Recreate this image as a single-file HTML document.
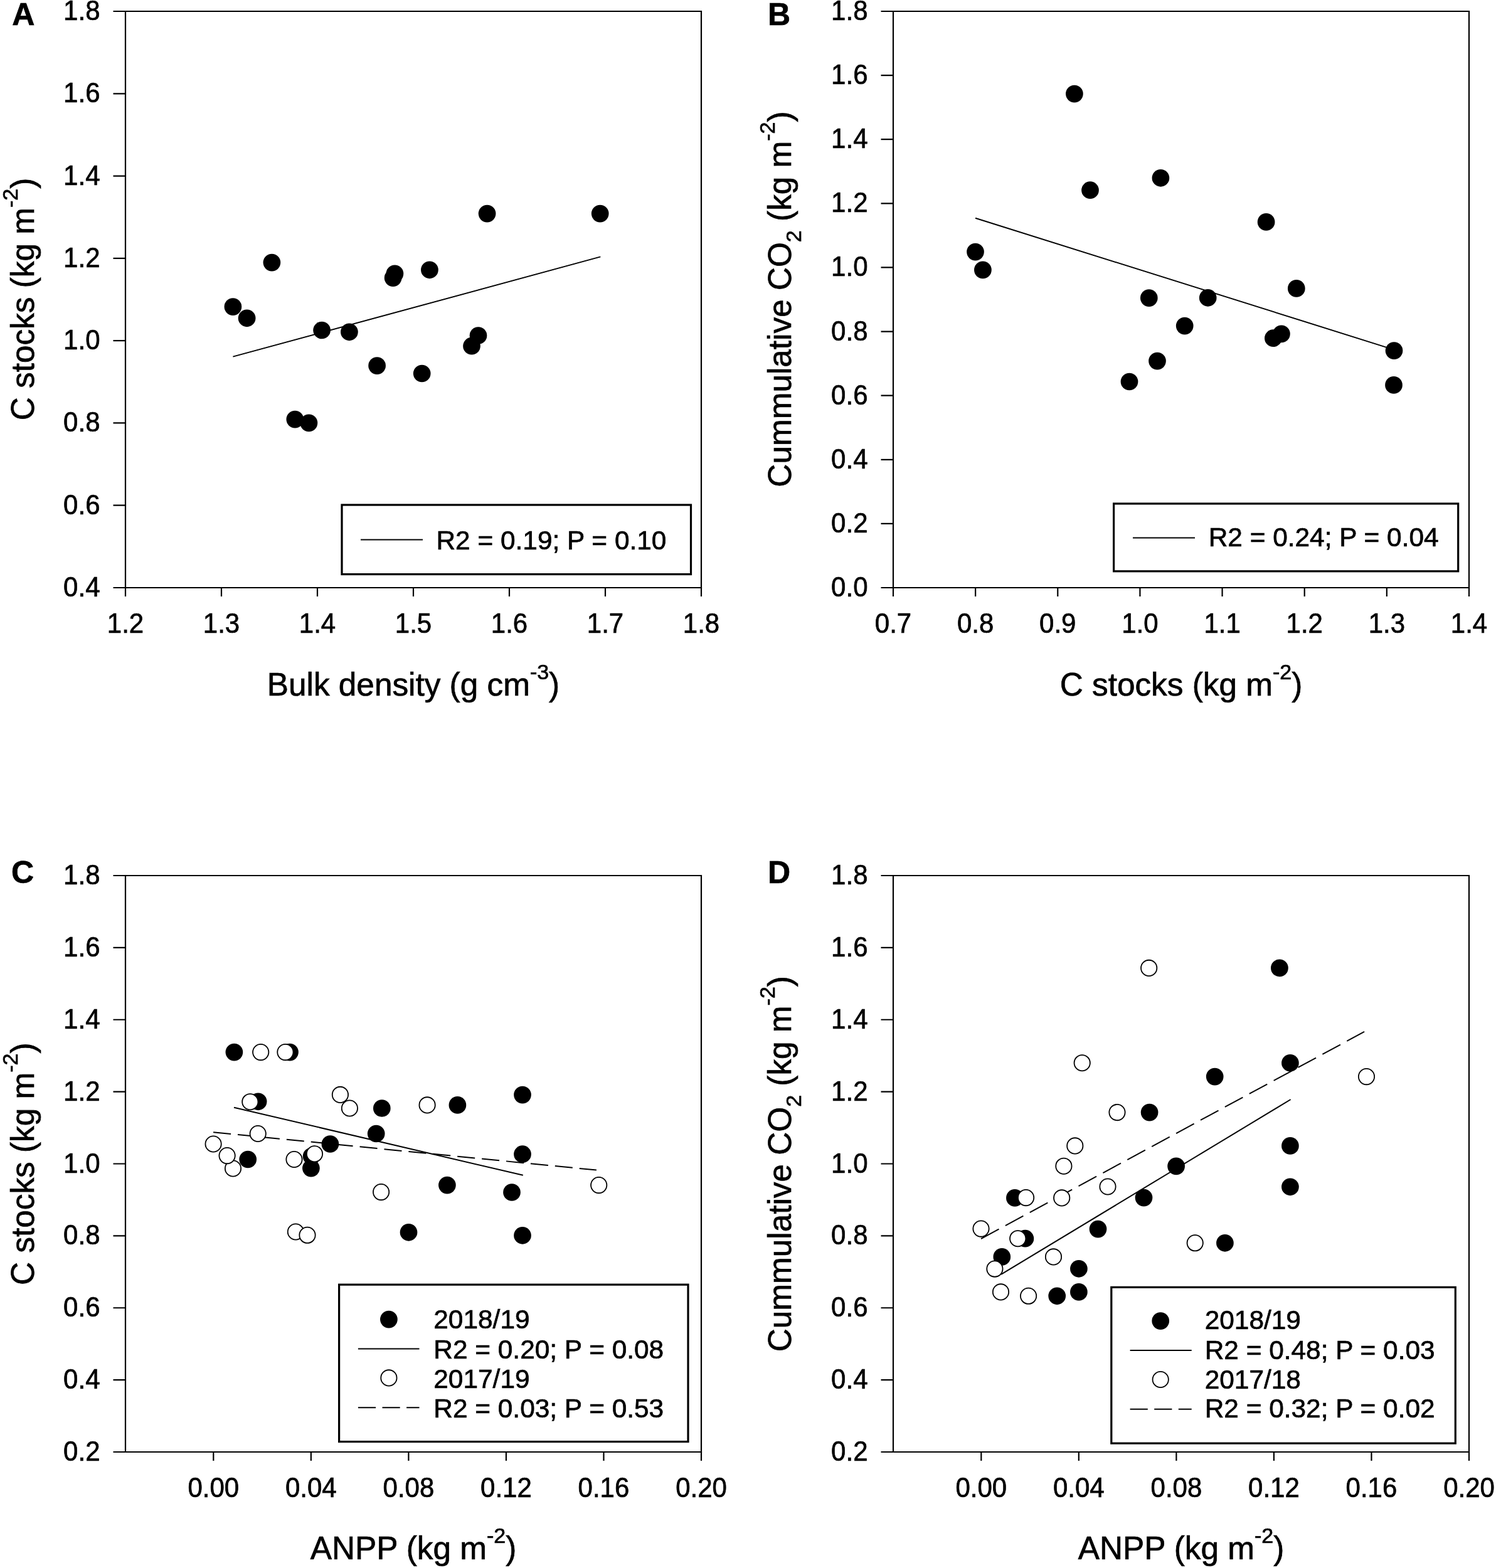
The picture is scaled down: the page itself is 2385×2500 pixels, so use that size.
<!DOCTYPE html>
<html><head><meta charset="utf-8"><title>Figure</title>
<style>html,body{margin:0;padding:0;background:#fff;}body{width:2385px;height:2500px;overflow:hidden;}svg{display:block;} text{stroke:#000;stroke-width:0.7;paint-order:stroke;}</style>
</head><body>
<svg width="2385" height="2500" viewBox="0 0 2385 2500">
<rect width="2385" height="2500" fill="#fff"/>
<g stroke="#000" stroke-width="2.2" fill="none" stroke-linecap="butt">
<path d="M200 16.9V938.1M198.9 937H1119.1M1118 938.1V16.9M1119.1 18H198.9"/>
<path d="M180.5 937H200M180.5 805.71H200M180.5 674.43H200M180.5 543.14H200M180.5 411.86H200M180.5 280.57H200M180.5 149.29H200M180.5 18H200M200 937V951M353 937V951M506 937V951M659 937V951M812 937V951M965 937V951M1118 937V951"/>
</g>
<g font-family="'Liberation Sans', Arial, Helvetica, sans-serif" font-size="42" fill="#000">
<text transform="translate(159.5 951) scale(1 1.045)" text-anchor="end">0.4</text>
<text transform="translate(159.5 819.71) scale(1 1.045)" text-anchor="end">0.6</text>
<text transform="translate(159.5 688.43) scale(1 1.045)" text-anchor="end">0.8</text>
<text transform="translate(159.5 557.14) scale(1 1.045)" text-anchor="end">1.0</text>
<text transform="translate(159.5 425.86) scale(1 1.045)" text-anchor="end">1.2</text>
<text transform="translate(159.5 294.57) scale(1 1.045)" text-anchor="end">1.4</text>
<text transform="translate(159.5 163.29) scale(1 1.045)" text-anchor="end">1.6</text>
<text transform="translate(159.5 32) scale(1 1.045)" text-anchor="end">1.8</text>
<text transform="translate(200 1009.3) scale(1 1.045)" text-anchor="middle">1.2</text>
<text transform="translate(353 1009.3) scale(1 1.045)" text-anchor="middle">1.3</text>
<text transform="translate(506 1009.3) scale(1 1.045)" text-anchor="middle">1.4</text>
<text transform="translate(659 1009.3) scale(1 1.045)" text-anchor="middle">1.5</text>
<text transform="translate(812 1009.3) scale(1 1.045)" text-anchor="middle">1.6</text>
<text transform="translate(965 1009.3) scale(1 1.045)" text-anchor="middle">1.7</text>
<text transform="translate(1118 1009.3) scale(1 1.045)" text-anchor="middle">1.8</text>
</g>
<path d="M371.4 568.6L957.3 409.4" stroke="#000" stroke-width="2.0" fill="none"/>
<circle cx="433.4" cy="418.6" r="13.85"/>
<circle cx="371.4" cy="489.1" r="13.85"/>
<circle cx="393.6" cy="507.3" r="13.85"/>
<circle cx="513.1" cy="526.5" r="13.85"/>
<circle cx="556.9" cy="529.3" r="13.85"/>
<circle cx="601.1" cy="583.1" r="13.85"/>
<circle cx="672.7" cy="595.5" r="13.85"/>
<circle cx="470.3" cy="668.6" r="13.85"/>
<circle cx="492.4" cy="674.4" r="13.85"/>
<circle cx="626.6" cy="443.1" r="13.85"/>
<circle cx="629.4" cy="436.4" r="13.85"/>
<circle cx="684.9" cy="430.3" r="13.85"/>
<circle cx="776.6" cy="340.6" r="13.85"/>
<circle cx="956.7" cy="340.6" r="13.85"/>
<circle cx="752" cy="551.7" r="13.85"/>
<circle cx="762.5" cy="535" r="13.85"/>
<rect x="545" y="805" width="556.5" height="110.6" fill="#fff" stroke="#000" stroke-width="3.2"/>
<path d="M575 860.6H674" stroke="#000" stroke-width="2.0"/>
<text x="695.5" y="876" font-family="'Liberation Sans', Arial, Helvetica, sans-serif" font-size="42.4">R2 = 0.19; P = 0.10</text>
<text x="659" y="1108.9" text-anchor="middle" font-family="'Liberation Sans', Arial, Helvetica, sans-serif" font-size="51.3">Bulk density (g cm<tspan dy="-25.6" font-size="34">-3</tspan><tspan dy="25.6">)</tspan></text>
<text transform="translate(54 477) rotate(-90)" text-anchor="middle" font-family="'Liberation Sans', Arial, Helvetica, sans-serif" font-size="51.3">C stocks (kg m<tspan dy="-25.6" font-size="34">-2</tspan><tspan dy="25.6">)</tspan></text>
<text x="19.3" y="40" font-family="'Liberation Sans', Arial, Helvetica, sans-serif" font-size="50" font-weight="bold">A</text>
<g stroke="#000" stroke-width="2.2" fill="none" stroke-linecap="butt">
<path d="M1424 16.9V938.1M1422.9 937H2343.1M2342 938.1V16.9M2343.1 18H1422.9"/>
<path d="M1404.5 937H1424M1404.5 834.89H1424M1404.5 732.78H1424M1404.5 630.67H1424M1404.5 528.56H1424M1404.5 426.44H1424M1404.5 324.33H1424M1404.5 222.22H1424M1404.5 120.11H1424M1404.5 18H1424M1424 937V951M1555.14 937V951M1686.29 937V951M1817.43 937V951M1948.57 937V951M2079.71 937V951M2210.86 937V951M2342 937V951"/>
</g>
<g font-family="'Liberation Sans', Arial, Helvetica, sans-serif" font-size="42" fill="#000">
<text transform="translate(1383.5 951) scale(1 1.045)" text-anchor="end">0.0</text>
<text transform="translate(1383.5 848.89) scale(1 1.045)" text-anchor="end">0.2</text>
<text transform="translate(1383.5 746.78) scale(1 1.045)" text-anchor="end">0.4</text>
<text transform="translate(1383.5 644.67) scale(1 1.045)" text-anchor="end">0.6</text>
<text transform="translate(1383.5 542.56) scale(1 1.045)" text-anchor="end">0.8</text>
<text transform="translate(1383.5 440.44) scale(1 1.045)" text-anchor="end">1.0</text>
<text transform="translate(1383.5 338.33) scale(1 1.045)" text-anchor="end">1.2</text>
<text transform="translate(1383.5 236.22) scale(1 1.045)" text-anchor="end">1.4</text>
<text transform="translate(1383.5 134.11) scale(1 1.045)" text-anchor="end">1.6</text>
<text transform="translate(1383.5 32) scale(1 1.045)" text-anchor="end">1.8</text>
<text transform="translate(1424 1009.3) scale(1 1.045)" text-anchor="middle">0.7</text>
<text transform="translate(1555.14 1009.3) scale(1 1.045)" text-anchor="middle">0.8</text>
<text transform="translate(1686.29 1009.3) scale(1 1.045)" text-anchor="middle">0.9</text>
<text transform="translate(1817.43 1009.3) scale(1 1.045)" text-anchor="middle">1.0</text>
<text transform="translate(1948.57 1009.3) scale(1 1.045)" text-anchor="middle">1.1</text>
<text transform="translate(2079.71 1009.3) scale(1 1.045)" text-anchor="middle">1.2</text>
<text transform="translate(2210.86 1009.3) scale(1 1.045)" text-anchor="middle">1.3</text>
<text transform="translate(2342 1009.3) scale(1 1.045)" text-anchor="middle">1.4</text>
</g>
<path d="M1555 347.7L2222.5 557.6" stroke="#000" stroke-width="2.0" fill="none"/>
<circle cx="1712.9" cy="149.6" r="13.85"/>
<circle cx="1738" cy="303.2" r="13.85"/>
<circle cx="1850.4" cy="283.8" r="13.85"/>
<circle cx="1555" cy="401.6" r="13.85"/>
<circle cx="1566.9" cy="430.4" r="13.85"/>
<circle cx="1831.8" cy="475.1" r="13.85"/>
<circle cx="1888.7" cy="519.6" r="13.85"/>
<circle cx="1845" cy="575.6" r="13.85"/>
<circle cx="1800.5" cy="608.5" r="13.85"/>
<circle cx="2018.6" cy="353.9" r="13.85"/>
<circle cx="2066.8" cy="459.9" r="13.85"/>
<circle cx="1925.7" cy="474.8" r="13.85"/>
<circle cx="2029.9" cy="539.2" r="13.85"/>
<circle cx="2042.9" cy="532.4" r="13.85"/>
<circle cx="2222.5" cy="559.1" r="13.85"/>
<circle cx="2222" cy="613.9" r="13.85"/>
<rect x="1775.6" y="803" width="549.1" height="107.8" fill="#fff" stroke="#000" stroke-width="3.2"/>
<path d="M1806 857.4H1905" stroke="#000" stroke-width="2.0"/>
<text x="1926.7" y="871.1" font-family="'Liberation Sans', Arial, Helvetica, sans-serif" font-size="42.4">R2 = 0.24; P = 0.04</text>
<text x="1883" y="1108.9" text-anchor="middle" font-family="'Liberation Sans', Arial, Helvetica, sans-serif" font-size="51.3">C stocks (kg m<tspan dy="-25.6" font-size="34">-2</tspan><tspan dy="25.6">)</tspan></text>
<text transform="translate(1261 477) rotate(-90)" text-anchor="middle" font-family="'Liberation Sans', Arial, Helvetica, sans-serif" font-size="51.3">Cummulative CO<tspan dy="16.4" font-size="34">2</tspan><tspan dy="-16.4"> (kg m</tspan><tspan dy="-25.6" font-size="34">-2</tspan><tspan dy="25.6">)</tspan></text>
<text x="1224" y="39.7" font-family="'Liberation Sans', Arial, Helvetica, sans-serif" font-size="50" font-weight="bold">B</text>
<g stroke="#000" stroke-width="2.2" fill="none" stroke-linecap="butt">
<path d="M200 1394.9V2316.1M198.9 2315H1119.1M1118 2316.1V1394.9M1119.1 1396H198.9"/>
<path d="M180.5 2315H200M180.5 2200.12H200M180.5 2085.25H200M180.5 1970.38H200M180.5 1855.5H200M180.5 1740.62H200M180.5 1625.75H200M180.5 1510.88H200M180.5 1396H200M340.3 2315V2329M495.84 2315V2329M651.38 2315V2329M806.92 2315V2329M962.46 2315V2329M1118 2315V2329"/>
</g>
<g font-family="'Liberation Sans', Arial, Helvetica, sans-serif" font-size="42" fill="#000">
<text transform="translate(159.5 2329) scale(1 1.045)" text-anchor="end">0.2</text>
<text transform="translate(159.5 2214.12) scale(1 1.045)" text-anchor="end">0.4</text>
<text transform="translate(159.5 2099.25) scale(1 1.045)" text-anchor="end">0.6</text>
<text transform="translate(159.5 1984.38) scale(1 1.045)" text-anchor="end">0.8</text>
<text transform="translate(159.5 1869.5) scale(1 1.045)" text-anchor="end">1.0</text>
<text transform="translate(159.5 1754.62) scale(1 1.045)" text-anchor="end">1.2</text>
<text transform="translate(159.5 1639.75) scale(1 1.045)" text-anchor="end">1.4</text>
<text transform="translate(159.5 1524.88) scale(1 1.045)" text-anchor="end">1.6</text>
<text transform="translate(159.5 1410) scale(1 1.045)" text-anchor="end">1.8</text>
<text transform="translate(340.3 2387.3) scale(1 1.045)" text-anchor="middle">0.00</text>
<text transform="translate(495.84 2387.3) scale(1 1.045)" text-anchor="middle">0.04</text>
<text transform="translate(651.38 2387.3) scale(1 1.045)" text-anchor="middle">0.08</text>
<text transform="translate(806.92 2387.3) scale(1 1.045)" text-anchor="middle">0.12</text>
<text transform="translate(962.46 2387.3) scale(1 1.045)" text-anchor="middle">0.16</text>
<text transform="translate(1118 2387.3) scale(1 1.045)" text-anchor="middle">0.20</text>
</g>
<path d="M373 1765.7L833.8 1873.8" stroke="#000" stroke-width="2.0" fill="none"/>
<path d="M340.1 1805.2L950.9 1865.6" stroke="#000" stroke-width="2.0" fill="none" stroke-dasharray="28.1 11"/>
<circle cx="373.4" cy="1677.6" r="13.85"/>
<circle cx="462" cy="1677.6" r="13.85"/>
<circle cx="411.6" cy="1756.3" r="13.85"/>
<circle cx="608.8" cy="1767" r="13.85"/>
<circle cx="599.7" cy="1807.5" r="13.85"/>
<circle cx="526.4" cy="1824" r="13.85"/>
<circle cx="395.2" cy="1848.5" r="13.85"/>
<circle cx="495.9" cy="1862.6" r="13.85"/>
<circle cx="496.6" cy="1843.6" r="13.85"/>
<circle cx="729.4" cy="1761.9" r="13.85"/>
<circle cx="833" cy="1745.6" r="13.85"/>
<circle cx="833" cy="1840.2" r="13.85"/>
<circle cx="712.9" cy="1889.6" r="13.85"/>
<circle cx="816" cy="1901" r="13.85"/>
<circle cx="651.5" cy="1964.8" r="13.85"/>
<circle cx="833" cy="1969.8" r="13.85"/>
<circle cx="415.7" cy="1677.6" r="12.65" fill="#fff" stroke="#000" stroke-width="1.8"/>
<circle cx="454.9" cy="1677.6" r="12.65" fill="#fff" stroke="#000" stroke-width="1.8"/>
<circle cx="398.8" cy="1756.7" r="12.65" fill="#fff" stroke="#000" stroke-width="1.8"/>
<circle cx="542.4" cy="1745.4" r="12.65" fill="#fff" stroke="#000" stroke-width="1.8"/>
<circle cx="557.4" cy="1767" r="12.65" fill="#fff" stroke="#000" stroke-width="1.8"/>
<circle cx="411.2" cy="1807.5" r="12.65" fill="#fff" stroke="#000" stroke-width="1.8"/>
<circle cx="340.1" cy="1824" r="12.65" fill="#fff" stroke="#000" stroke-width="1.8"/>
<circle cx="371.5" cy="1863" r="12.65" fill="#fff" stroke="#000" stroke-width="1.8"/>
<circle cx="362.1" cy="1842.6" r="12.65" fill="#fff" stroke="#000" stroke-width="1.8"/>
<circle cx="469" cy="1848.5" r="12.65" fill="#fff" stroke="#000" stroke-width="1.8"/>
<circle cx="501.5" cy="1839.8" r="12.65" fill="#fff" stroke="#000" stroke-width="1.8"/>
<circle cx="607.6" cy="1900.6" r="12.65" fill="#fff" stroke="#000" stroke-width="1.8"/>
<circle cx="471.4" cy="1964" r="12.65" fill="#fff" stroke="#000" stroke-width="1.8"/>
<circle cx="490" cy="1969.3" r="12.65" fill="#fff" stroke="#000" stroke-width="1.8"/>
<circle cx="681.1" cy="1761.9" r="12.65" fill="#fff" stroke="#000" stroke-width="1.8"/>
<circle cx="954.7" cy="1889.6" r="12.65" fill="#fff" stroke="#000" stroke-width="1.8"/>
<rect x="540.6" y="2048.2" width="556.4" height="250.4" fill="#fff" stroke="#000" stroke-width="3.2"/>
<circle cx="619.9" cy="2103.6" r="13.85"/>
<text x="691.3" y="2117.9" font-family="'Liberation Sans', Arial, Helvetica, sans-serif" font-size="42.4">2018/19</text>
<path d="M570.9 2150.6H668.5" stroke="#000" stroke-width="2.0"/>
<text x="691.3" y="2165.9" font-family="'Liberation Sans', Arial, Helvetica, sans-serif" font-size="42.4">R2 = 0.20; P = 0.08</text>
<circle cx="619.9" cy="2196.9" r="12.65" fill="#fff" stroke="#000" stroke-width="1.8"/>
<text x="691.3" y="2212.9" font-family="'Liberation Sans', Arial, Helvetica, sans-serif" font-size="42.4">2017/19</text>
<path d="M570.9 2244.3H668.5" stroke="#000" stroke-width="2.0" stroke-dasharray="28.2 10.4"/>
<text x="691.3" y="2259.6" font-family="'Liberation Sans', Arial, Helvetica, sans-serif" font-size="42.4">R2 = 0.03; P = 0.53</text>
<text x="659" y="2485.7" text-anchor="middle" font-family="'Liberation Sans', Arial, Helvetica, sans-serif" font-size="51.3">ANPP (kg m<tspan dy="-25.6" font-size="34">-2</tspan><tspan dy="25.6">)</tspan></text>
<text transform="translate(54 1855.7) rotate(-90)" text-anchor="middle" font-family="'Liberation Sans', Arial, Helvetica, sans-serif" font-size="51.3">C stocks (kg m<tspan dy="-25.6" font-size="34">-2</tspan><tspan dy="25.6">)</tspan></text>
<text x="18" y="1408.4" font-family="'Liberation Sans', Arial, Helvetica, sans-serif" font-size="50" font-weight="bold">C</text>
<g stroke="#000" stroke-width="2.2" fill="none" stroke-linecap="butt">
<path d="M1424 1394.9V2316.1M1422.9 2315H2343.1M2342 2316.1V1394.9M2343.1 1396H1422.9"/>
<path d="M1404.5 2315H1424M1404.5 2200.12H1424M1404.5 2085.25H1424M1404.5 1970.38H1424M1404.5 1855.5H1424M1404.5 1740.62H1424M1404.5 1625.75H1424M1404.5 1510.88H1424M1404.5 1396H1424M1564.3 2315V2329M1719.84 2315V2329M1875.38 2315V2329M2030.92 2315V2329M2186.46 2315V2329M2342 2315V2329"/>
</g>
<g font-family="'Liberation Sans', Arial, Helvetica, sans-serif" font-size="42" fill="#000">
<text transform="translate(1383.5 2329) scale(1 1.045)" text-anchor="end">0.2</text>
<text transform="translate(1383.5 2214.12) scale(1 1.045)" text-anchor="end">0.4</text>
<text transform="translate(1383.5 2099.25) scale(1 1.045)" text-anchor="end">0.6</text>
<text transform="translate(1383.5 1984.38) scale(1 1.045)" text-anchor="end">0.8</text>
<text transform="translate(1383.5 1869.5) scale(1 1.045)" text-anchor="end">1.0</text>
<text transform="translate(1383.5 1754.62) scale(1 1.045)" text-anchor="end">1.2</text>
<text transform="translate(1383.5 1639.75) scale(1 1.045)" text-anchor="end">1.4</text>
<text transform="translate(1383.5 1524.88) scale(1 1.045)" text-anchor="end">1.6</text>
<text transform="translate(1383.5 1410) scale(1 1.045)" text-anchor="end">1.8</text>
<text transform="translate(1564.3 2387.3) scale(1 1.045)" text-anchor="middle">0.00</text>
<text transform="translate(1719.84 2387.3) scale(1 1.045)" text-anchor="middle">0.04</text>
<text transform="translate(1875.38 2387.3) scale(1 1.045)" text-anchor="middle">0.08</text>
<text transform="translate(2030.92 2387.3) scale(1 1.045)" text-anchor="middle">0.12</text>
<text transform="translate(2186.46 2387.3) scale(1 1.045)" text-anchor="middle">0.16</text>
<text transform="translate(2342 2387.3) scale(1 1.045)" text-anchor="middle">0.20</text>
</g>
<path d="M1596 2031.9L2057.6 1753" stroke="#000" stroke-width="2.0" fill="none"/>
<path d="M1564 1975.1L2175.1 1644.9" stroke="#000" stroke-width="2.0" fill="none" stroke-dasharray="32.4 11.8"/>
<circle cx="1617.9" cy="1909.9" r="13.85"/>
<circle cx="1823.5" cy="1909.6" r="13.85"/>
<circle cx="1750.5" cy="1959.6" r="13.85"/>
<circle cx="1634.4" cy="1974.7" r="13.85"/>
<circle cx="1597.3" cy="2003.9" r="13.85"/>
<circle cx="1719.9" cy="2022.8" r="13.85"/>
<circle cx="1685.2" cy="2066.3" r="13.85"/>
<circle cx="1719.9" cy="2059.9" r="13.85"/>
<circle cx="2056.9" cy="1694.8" r="13.85"/>
<circle cx="1936.7" cy="1716.6" r="13.85"/>
<circle cx="1832.6" cy="1773.6" r="13.85"/>
<circle cx="2056.9" cy="1826.9" r="13.85"/>
<circle cx="1875.1" cy="1859.4" r="13.85"/>
<circle cx="2056.9" cy="1892.3" r="13.85"/>
<circle cx="2039.9" cy="1543.4" r="13.85"/>
<circle cx="1952.9" cy="1981.8" r="13.85"/>
<circle cx="1695.9" cy="1859.2" r="12.65" fill="#fff" stroke="#000" stroke-width="1.8"/>
<circle cx="1766" cy="1892" r="12.65" fill="#fff" stroke="#000" stroke-width="1.8"/>
<circle cx="1635.6" cy="1909.6" r="12.65" fill="#fff" stroke="#000" stroke-width="1.8"/>
<circle cx="1692.7" cy="1909.9" r="12.65" fill="#fff" stroke="#000" stroke-width="1.8"/>
<circle cx="1564" cy="1959.1" r="12.65" fill="#fff" stroke="#000" stroke-width="1.8"/>
<circle cx="1622.7" cy="1974.7" r="12.65" fill="#fff" stroke="#000" stroke-width="1.8"/>
<circle cx="1679.5" cy="2003.9" r="12.65" fill="#fff" stroke="#000" stroke-width="1.8"/>
<circle cx="1585.9" cy="2023.1" r="12.65" fill="#fff" stroke="#000" stroke-width="1.8"/>
<circle cx="1595.5" cy="2059.9" r="12.65" fill="#fff" stroke="#000" stroke-width="1.8"/>
<circle cx="1639.6" cy="2066.3" r="12.65" fill="#fff" stroke="#000" stroke-width="1.8"/>
<circle cx="2178.5" cy="1716.6" r="12.65" fill="#fff" stroke="#000" stroke-width="1.8"/>
<circle cx="1781" cy="1773.6" r="12.65" fill="#fff" stroke="#000" stroke-width="1.8"/>
<circle cx="1831.7" cy="1543.4" r="12.65" fill="#fff" stroke="#000" stroke-width="1.8"/>
<circle cx="1725.2" cy="1694.7" r="12.65" fill="#fff" stroke="#000" stroke-width="1.8"/>
<circle cx="1713.8" cy="1826.9" r="12.65" fill="#fff" stroke="#000" stroke-width="1.8"/>
<circle cx="1905.2" cy="1981.8" r="12.65" fill="#fff" stroke="#000" stroke-width="1.8"/>
<rect x="1771.8" y="2052.4" width="548.5" height="248.8" fill="#fff" stroke="#000" stroke-width="3.2"/>
<circle cx="1850.2" cy="2106.1" r="13.85"/>
<text x="1920.7" y="2118.9" font-family="'Liberation Sans', Arial, Helvetica, sans-serif" font-size="42.4">2018/19</text>
<path d="M1801.6 2153.1H1899.7" stroke="#000" stroke-width="2.0"/>
<text x="1920.7" y="2166.9" font-family="'Liberation Sans', Arial, Helvetica, sans-serif" font-size="42.4">R2 = 0.48; P = 0.03</text>
<circle cx="1850.2" cy="2199.5" r="12.65" fill="#fff" stroke="#000" stroke-width="1.8"/>
<text x="1920.7" y="2213.9" font-family="'Liberation Sans', Arial, Helvetica, sans-serif" font-size="42.4">2017/18</text>
<path d="M1801.6 2246.8H1899.7" stroke="#000" stroke-width="2.0" stroke-dasharray="28.2 10.4"/>
<text x="1920.7" y="2260.3" font-family="'Liberation Sans', Arial, Helvetica, sans-serif" font-size="42.4">R2 = 0.32; P = 0.02</text>
<text x="1883" y="2485.7" text-anchor="middle" font-family="'Liberation Sans', Arial, Helvetica, sans-serif" font-size="51.3">ANPP (kg m<tspan dy="-25.6" font-size="34">-2</tspan><tspan dy="25.6">)</tspan></text>
<text transform="translate(1261 1855.7) rotate(-90)" text-anchor="middle" font-family="'Liberation Sans', Arial, Helvetica, sans-serif" font-size="51.3">Cummulative CO<tspan dy="16.4" font-size="34">2</tspan><tspan dy="-16.4"> (kg m</tspan><tspan dy="-25.6" font-size="34">-2</tspan><tspan dy="25.6">)</tspan></text>
<text x="1224" y="1407.6" font-family="'Liberation Sans', Arial, Helvetica, sans-serif" font-size="50" font-weight="bold">D</text>
</svg>
</body></html>
